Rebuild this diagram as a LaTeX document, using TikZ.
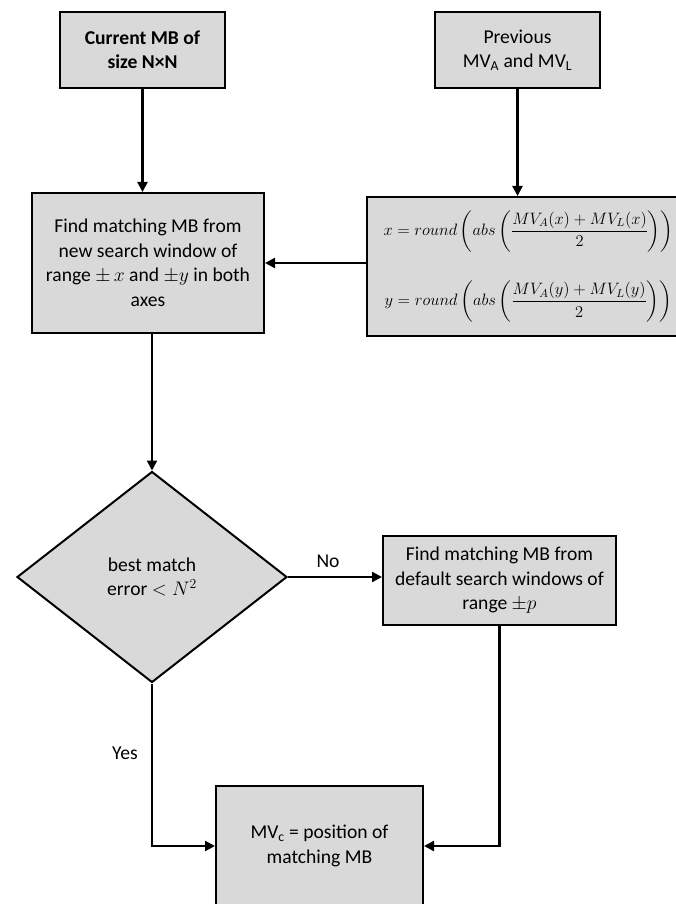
\RequirePackage{fix-cm}
\documentclass[tikz,border=0pt]{standalone}
\usepackage{amsmath}
\usepackage{fontspec}
\setmainfont{Carlito}
\usetikzlibrary{shapes.geometric,arrows.meta}
\definecolor{boxgrey}{HTML}{D9D9D9}
\begin{document}
\begin{tikzpicture}[x=1pt,y=-1pt,
        font=\fontsize{19.6}{24.5}\selectfont,
        blocco/.style={draw, line width=2pt, fill=boxgrey, align=center, inner sep=2pt},
        decisione/.style={draw, line width=2pt, fill=boxgrey, diamond, align=center, inner sep=0pt},
        freccia/.style={line width=2.2pt, -{Triangle[length=10pt,width=10pt]}}]
        \useasboundingbox (0,0) rectangle (676,904);

        % Blocchi superiori
        \node[blocco, minimum width=165, minimum height=76] (corrente) at (142.5,50)
            {\textbf{Current MB of}\\\textbf{size N×N}};
        \node[blocco, minimum width=165, minimum height=76] (precedenti) at (517.5,50)
            {Previous\\MV\textsubscript{A} and MV\textsubscript{L}};

        % Ricerca nella nuova finestra
        \node[blocco, minimum width=232, minimum height=140] (ricerca) at (148,263)
            {Find matching MB from\\new search window of\\range $\pm\, x$ and $\pm y$ in both\\axes};
        \node[blocco, minimum width=323, minimum height=139, font=\fontsize{16.5}{20}\selectfont] (formule) at (528.5,266.5)
            {$\displaystyle x = round\left(abs\left(\frac{MV_A(x)+MV_L(x)}{2}\right)\right)$\\[28pt]
             $\displaystyle y = round\left(abs\left(\frac{MV_A(y)+MV_L(y)}{2}\right)\right)$};

        % Decisione
        \node[decisione, minimum width=270, minimum height=211] (test) at (152,577)
            {best match\\error $< N^2$};
        \node[blocco, minimum width=233, minimum height=89] (predefinita) at (499.5,580.5)
            {Find matching MB from\\default search windows of\\range $\pm p$};

        % Risultato
        \node[blocco, minimum width=207, minimum height=120] (risultato) at (319.5,846)
            {MV\textsubscript{c} = position of\\matching MB};

        % Frecce
        \draw[freccia] (corrente.south) -- (corrente.south |- ricerca.north);
        \draw[freccia] (precedenti.south) -- (precedenti.south |- formule.north);
        \draw[freccia] (formule.west |- ricerca.east) -- (ricerca.east);
        \draw[freccia] (test.north |- ricerca.south) -- (test.north);
        \draw[freccia] (test.east) -- (test.east -| predefinita.west);
        \draw[freccia] (test.south) |- (risultato.west);
        \draw[freccia] (predefinita.south) |- (risultato.east);

        % Etichette
        \node (no) at (328,561) {No};
        \node (si) at (125,753) {Yes};
\end{tikzpicture}
\end{document}
